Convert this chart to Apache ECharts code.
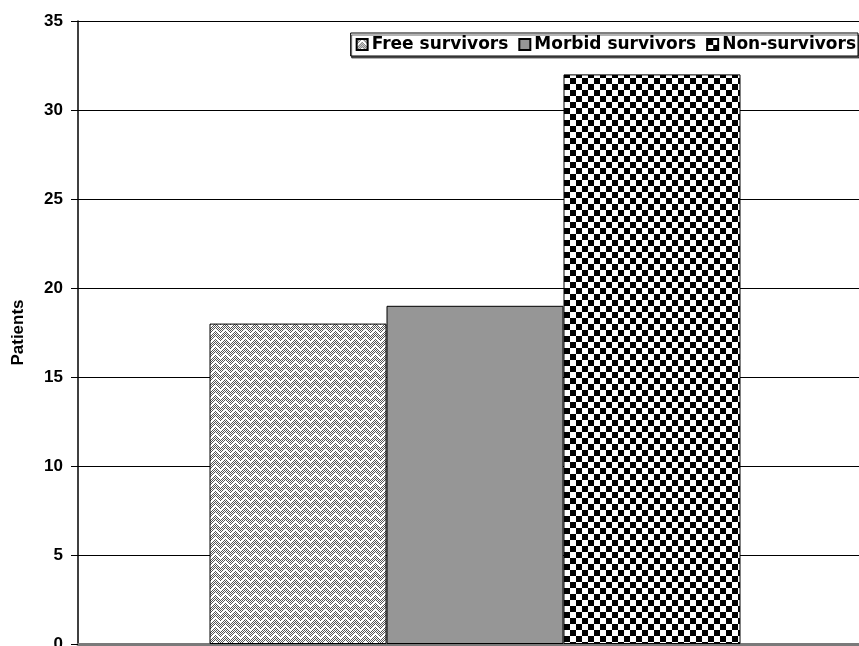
<!DOCTYPE html>
<html>
<head>
<meta charset="utf-8">
<script src="https://cdn.jsdelivr.net/npm/echarts@6/dist/echarts.min.js"></script>
<style>
  html, body { margin: 0; padding: 0; background: #fff; }
  #chart { width: 859px; height: 646px; }
</style>
</head>
<body>
<div id="chart"></div>
<script>
// patients by outcome
const categories = ['']
const seriesNames = ['Free survivors', 'Morbid survivors', 'Non-survivors']
const freeSurvivors = [18]
const morbidSurvivors = [19]
const nonSurvivors = [32]
const yTicks = [0, 5, 10, 15, 20, 25, 30, 35]

// 编织纹理
function weavePattern() {
  const c = document.createElement('canvas')
  c.width = 10
  c.height = 8
  const ctx = c.getContext('2d')
  ctx.fillStyle = '#ffffff'
  ctx.fillRect(0, 0, 10, 8)
  // dithered gray base
  ctx.fillStyle = '#555555'
  for (let y = 0; y < 8; y++) {
    for (let x = 0; x < 10; x++) {
      if ((x + y) % 2 === 0) ctx.fillRect(x, y, 1, 1)
    }
  }
  // white chevron strokes
  ctx.fillStyle = '#ffffff'
  const pts = [[0, 5], [1, 4], [2, 3], [3, 2], [4, 1], [5, 1], [6, 2], [7, 3], [8, 4], [9, 5],
    [0, 6], [1, 5], [2, 4], [3, 3], [4, 2], [5, 2], [6, 3], [7, 4], [8, 5], [9, 6]]
  pts.forEach(p => ctx.fillRect(p[0], p[1], 1, 1))
  return c
}

// 棋盘纹理
function checkerPattern() {
  const c = document.createElement('canvas')
  c.width = 12
  c.height = 12
  const ctx = c.getContext('2d')
  ctx.fillStyle = '#ffffff'
  ctx.fillRect(0, 0, 12, 12)
  ctx.fillStyle = '#000000'
  ctx.fillRect(0, 0, 6, 6)
  ctx.fillRect(6, 6, 6, 6)
  return c
}

const myChart = echarts.init(document.getElementById('chart'))

const textFont = {
  fontFamily: 'Liberation Sans, Arial, sans-serif',
  fontWeight: 'bold',
  fontSize: 17,
  color: '#000'
}

const option = {
  backgroundColor: '#fff',
  animation: false,
  grid: {
    left: 78,
    top: 21,
    width: 794,
    bottom: 2,
    containLabel: false,
    outerBoundsMode: 'none'
  },
  legend: {
    data: seriesNames,
    icon: 'rect',
    right: 1,
    top: 33,
    itemWidth: 11,
    itemHeight: 11,
    itemGap: 10,
    padding: [3, 2, 3, 5],
    backgroundColor: '#fff',
    borderColor: '#000',
    borderWidth: 1,
    shadowColor: 'rgba(0,0,0,0.6)',
    shadowOffsetX: 1,
    shadowOffsetY: 2,
    textStyle: {
      fontFamily: 'DejaVu Sans, sans-serif',
      fontWeight: 'bold',
      fontSize: 17,
      color: '#000',
      padding: [0, 0, 0, -1]
    }
  },
  xAxis: {
    type: 'category',
    data: categories,
    axisLine: { show: true, lineStyle: { color: '#7a7a7a', width: 3 } },
    axisTick: { show: false },
    axisLabel: { show: false }
  },
  yAxis: {
    type: 'value',
    min: 0,
    max: 35,
    interval: 5,
    name: 'Patients',
    nameLocation: 'middle',
    nameRotate: 90,
    nameGap: 51,
    nameTextStyle: textFont,
    axisLine: { show: true, lineStyle: { color: '#000', width: 1.5 } },
    axisTick: { show: true, inside: false, length: 7, lineStyle: { color: '#000' } },
    axisLabel: Object.assign({}, textFont, {
      margin: 15,
      formatter: v => (yTicks.indexOf(v) >= 0 ? String(v) : '')
    }),
    splitLine: { show: true, lineStyle: { color: '#000', width: 1 } }
  },
  series: [
    {
      name: seriesNames[0],
      type: 'bar',
      barWidth: 177,
      barGap: '0%',
      itemStyle: {
        color: { image: weavePattern(), repeat: 'repeat' },
        borderColor: '#000',
        borderWidth: 1
      },
      data: freeSurvivors
    },
    {
      name: seriesNames[1],
      type: 'bar',
      barWidth: 177,
      barGap: '0%',
      itemStyle: {
        color: '#969696',
        borderColor: '#000',
        borderWidth: 1
      },
      data: morbidSurvivors
    },
    {
      name: seriesNames[2],
      type: 'bar',
      barWidth: 177,
      barGap: '0%',
      itemStyle: {
        color: { image: checkerPattern(), repeat: 'repeat' },
        borderColor: '#000',
        borderWidth: 1
      },
      data: nonSurvivors
    }
  ]
}

myChart.setOption(option)
</script>
</body>
</html>
